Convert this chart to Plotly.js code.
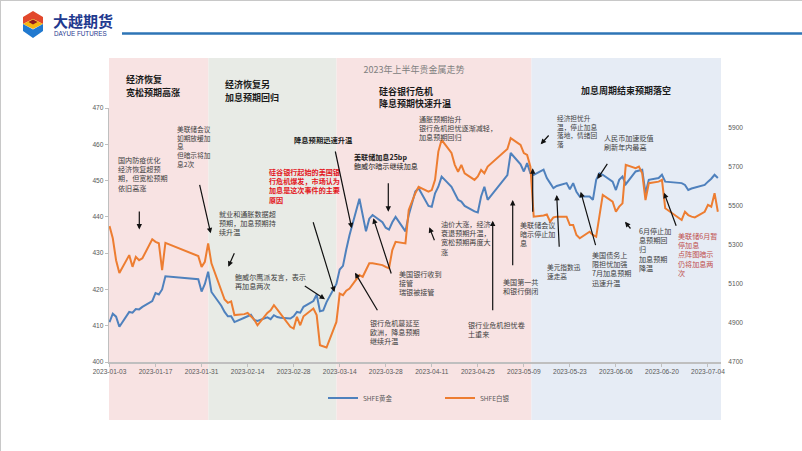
<!DOCTYPE html>
<html><head><meta charset="utf-8">
<script src="https://cdn.plot.ly/plotly-3.0.1.min.js"></script>
<style>html,body{margin:0;padding:0;background:#fff}#c{width:802px;height:451px}</style>
</head><body><div id="c"></div>
<script>
const dates = ['2023-01-03','2023-01-04','2023-01-05','2023-01-06','2023-01-09','2023-01-10','2023-01-11','2023-01-12','2023-01-13','2023-01-16','2023-01-17','2023-01-18','2023-01-19','2023-01-20','2023-01-30','2023-01-31',
'2023-02-01','2023-02-02','2023-02-03','2023-02-06','2023-02-07','2023-02-08','2023-02-09','2023-02-10','2023-02-13','2023-02-14','2023-02-15','2023-02-16','2023-02-17','2023-02-20','2023-02-21','2023-02-22','2023-02-23','2023-02-24','2023-02-27','2023-02-28',
'2023-03-01','2023-03-02','2023-03-03','2023-03-06','2023-03-07','2023-03-08','2023-03-09','2023-03-10','2023-03-13','2023-03-14','2023-03-15','2023-03-16','2023-03-17','2023-03-20','2023-03-21','2023-03-22','2023-03-23','2023-03-24','2023-03-27','2023-03-28','2023-03-29','2023-03-30','2023-03-31',
'2023-04-03','2023-04-04','2023-04-06','2023-04-07','2023-04-10','2023-04-11','2023-04-12','2023-04-13','2023-04-14','2023-04-17','2023-04-18','2023-04-19','2023-04-20','2023-04-21','2023-04-24','2023-04-25','2023-04-26','2023-04-27','2023-04-28',
'2023-05-04','2023-05-05','2023-05-08','2023-05-09','2023-05-10','2023-05-11','2023-05-12','2023-05-15','2023-05-16','2023-05-17','2023-05-18','2023-05-19','2023-05-22','2023-05-23','2023-05-24','2023-05-25','2023-05-26','2023-05-29','2023-05-30','2023-05-31',
'2023-06-01','2023-06-02','2023-06-05','2023-06-06','2023-06-07','2023-06-08','2023-06-09','2023-06-12','2023-06-13','2023-06-14','2023-06-15','2023-06-16','2023-06-19','2023-06-20','2023-06-21','2023-06-26','2023-06-27','2023-06-28','2023-06-29','2023-06-30',
'2023-07-03','2023-07-04','2023-07-05','2023-07-06','2023-07-07'];

const goldSHFE = [411.0,413.3,412.5,409.7,413.8,413.6,414.6,414.5,415.2,416.8,419.0,418.6,420.0,423.6,422.8,419.4,
421.5,424.9,419.3,415.5,413.8,412.6,412.6,411.0,412.2,412.6,413.0,411.6,411.3,412.3,411.8,412.9,412.4,412.2,412.0,412.6,
413.8,413.6,415.2,416.8,418.6,414.0,414.2,416.5,421.5,425.5,426.5,431.0,435.0,445.0,440.0,436.0,439.5,440.5,438.5,437.0,436.5,438.5,440.0,
436.0,440.5,447.0,447.9,443.0,442.8,446.5,448.3,451.1,448.3,446.5,444.7,444.2,443.0,441.5,441.2,445.6,448.3,444.7,
451.5,457.6,454.5,452.5,454.8,452.0,451.6,453.0,450.7,449.3,447.9,448.5,449.3,447.6,449.3,446.9,445.6,445.6,444.7,450.2,
452.0,451.6,449.7,447.4,450.2,451.1,449.0,452.5,452.8,453.0,446.5,450.2,450.7,451.6,449.7,449.3,448.8,447.4,447.8,448.0,
448.8,449.7,450.5,451.6,450.7];

const silverSHFE = [5396,5333,5221,5156,5247,5187,5238,5221,5231,5328,5315,5308,5170,5310,5242,5187,
5213,5307,5205,5059,5020,5003,5010,4940,4945,4951,4934,4917,4888,4951,4965,4991,4969,4948,4880,4871,
4931,4888,4934,4974,4940,4786,4780,4774,4905,5050,5042,5065,5076,5145,5136,5170,5205,5205,5196,5187,5179,5273,5315,
5307,5478,5564,5597,5572,5580,5632,5777,5837,5770,5709,5674,5709,5666,5632,5650,5683,5666,5700,
5790,5846,5811,5769,5760,5700,5444,5450,5455,5418,5440,5444,5444,5401,5401,5350,5333,5367,5350,5341,
5444,5555,5521,5469,5495,5512,5709,5692,5700,5666,5529,5615,5623,5632,5487,5427,5469,5452,5444,5440,
5469,5504,5495,5564,5469];

const seriesNames = ['SHFE黄金','SHFE白银'];
const chartTitle = '2023年上半年贵金属走势';

// geometry helpers (pixel -> paper)
const L=109, T=108, W=612, H=254;
const px = x => (x-L)/W;
const py = y => (T+H-y)/H;

const annotations = [];
const FONT = 'Noto Sans CJK SC, Noto Sans, sans-serif';
const styles = {
  h:{size:9,color:'#1a1a1a',bold:true},
  n:{size:7.1,color:'#404040',bold:false},
  s:{size:6.7,color:'#404040',bold:false},
  nb:{size:7.3,color:'#1a1a1a',bold:true},
  r:{size:7.1,color:'#e3161d',bold:true},
  p:{size:7.1,color:'#c0504d',bold:false}
};
// one text box per note; y = centre of its first line
function block(lines,x,y,st){
  const s=styles[st];
  const txt=lines.map(t=>s.bold?'<b>'+t+'</b>':t).join('<br>');
  annotations.push({text:txt,xref:'paper',yref:'paper',x:px(x-1),y:py(y-0.65*s.size-1),
    xanchor:'left',yanchor:'top',align:'left',showarrow:false,font:{family:FONT,size:s.size,color:s.color}});
}
// headings: one text per line, set a little apart
function heading(lines,x,y,dy){
  const s=styles.h;
  lines.forEach((t,i)=>annotations.push({text:'<b>'+t+'</b>',xref:'paper',yref:'paper',x:px(x),y:py(y+i*dy),
    xanchor:'left',yanchor:'middle',borderpad:0,showarrow:false,font:{family:FONT,size:s.size,color:s.color}}));
}
function arrow(x0,y0,x1,y1){
  annotations.push({text:'',xref:'paper',yref:'paper',x:px(x1),y:py(y1),ax:x0-x1,ay:y0-y1,
    showarrow:true,arrowhead:2,arrowsize:0.9,arrowwidth:1.2,arrowcolor:'#111',standoff:0});
}

// headings
heading(['经济恢复','宽松预期高涨'],125,79.5,12.6);
heading(['经济恢复另','加息预期回归'],224,84.5,12.6);
heading(['硅谷银行危机','降息预期快速升温'],378,91.2,12.6);
heading(['加息周期结束预期落空'],580,90.7,12);

// notes
block(['国内防疫优化','经济恢复超预','期，但宽松预期','依旧高涨'],117,158.3,'n');
block(['美联储会议','如期放缓加','息','但暗示将加','息2次'],176,127.7,'s');
block(['就业和通胀数据超','预期，加息预期持','续升温'],218.3,212.3,'n');
block(['鲍威尔鹰派发言，表示','再加息两次'],233.5,276,'n');
block(['硅谷银行起始的美国银','行危机爆发，市场认为','加息是这次事件的主要','原因'],268.3,171,'r');
block(['降息预期迅速升温'],292.7,138.3,'nb');
annotations.push({text:'<b>美联储加息25bp</b><br>鲍威尔暗示继续加息',xref:'paper',yref:'paper',x:px(351.7),y:py(155.5-0.65*7.1-1),
  xanchor:'left',yanchor:'top',align:'left',showarrow:false,font:{family:FONT,size:7.1,color:'#1a1a1a'}});
block(['通胀预期抬升','银行危机担忧逐渐减轻，','加息预期回归'],418.3,117.5,'n');
block(['油价大涨，经济','衰退预期升温，','宽松预期再度大','涨'],440,222.7,'n');
block(['美国银行收到','接管','瑞银被接管'],397.7,272.7,'n');
block(['银行危机蔓延至','欧洲，降息预期','继续升温'],369.3,321.7,'n');
block(['银行业危机担忧卷','土重来'],466.7,323.3,'n');
block(['美国第一共','和银行倒闭'],501.5,280.5,'n');
block(['美联储会议','暗示停止加','息'],519.3,223.5,'n');
block(['美元指数迅','速走高'],546,265,'s');
block(['美国债务上','限担忧加强','7月加息预期','迅速升温'],591,253.3,'n');
block(['经济担忧升','温，停止加息','落地，情绪回','落'],556,116.7,'s');
block(['人民币加速贬值','刷新年内最高'],602.7,136.7,'n');
block(['6月停止加','息预期回','归','加息预期','降温'],637.7,230,'n');
block(['美联储6月暂','停加息','点阵图暗示','仍将加息两','次'],676.7,235,'p');

// arrows (tail -> head)
arrow(139.3,210,139.3,229.5);
arrow(199.3,183.3,210.7,233.3);
arrow(235,251.7,228.3,266.7);
arrow(303.3,285,325,299.3);
arrow(312.7,220.7,334.5,292);
arrow(335,150,351.7,228.3);
arrow(388.3,181.7,388.3,211.7);
arrow(435,241.7,429.3,227.3);
arrow(391.7,275,373.3,218.3);
arrow(378.3,311.7,355,272.7);
arrow(492.7,311.7,492.7,220.7);
arrow(512.7,266.7,512.7,200);
arrow(532.7,213.3,532.7,168.3);
arrow(559.3,248.3,556.7,195);
arrow(596,246.7,580.7,191.7);
arrow(550,134,540.7,144.3);
arrow(608.3,162.3,597.3,179);
arrow(631.7,230,625,221.7);
arrow(676.7,227.3,664,192.7);

// header
annotations.push({text:'<b>大越期货</b>',xref:'paper',yref:'paper',x:px(51),y:py(20.5),xanchor:'left',yanchor:'middle',showarrow:false,font:{family:FONT,size:15,color:'#1f3a8f'}});
annotations.push({text:'DAYUE FUTURES',xref:'paper',yref:'paper',x:px(52),y:py(33.5),xanchor:'left',yanchor:'middle',showarrow:false,font:{family:'Liberation Sans, sans-serif',size:6.3,color:'#1f3a8f'}});

// shapes
const rect=(x0,x1,y0,y1,c)=>({type:'rect',xref:'paper',yref:'paper',x0:px(x0),x1:px(x1),y0:py(y1),y1:py(y0),fillcolor:c,line:{width:0},layer:'below'});
const poly=(pts,c)=>({type:'path',xref:'paper',yref:'paper',path:'M'+pts.map(p=>px(p[0])+','+py(p[1])).join('L')+'Z',fillcolor:c,line:{width:0},layer:'above'});
const shapes=[
  rect(109,208.5,58,420,'#f8e3e3'),
  rect(208.5,336.5,58,420,'#e8ebe6'),
  rect(336.5,531.5,58,420,'#f8e3e3'),
  rect(531.5,721,58,420,'#e6ecf5'),
  {type:'line',xref:'paper',yref:'paper',x0:px(122),x1:px(802),y0:py(33.5),y1:py(33.5),line:{color:'#2e75b6',width:2.5}},
  {type:'line',xref:'paper',yref:'paper',x0:px(0.5),x1:px(802),y0:py(0.5),y1:py(0.5),line:{color:'#c8c8c8',width:1}},
  {type:'line',xref:'paper',yref:'paper',x0:px(0.5),x1:px(0.5),y0:py(0),y1:py(451),line:{color:'#c8c8c8',width:1}},
  poly([[23,17],[33,11],[43,17],[43,24],[33,19],[23,24]],'#e2482c'),
  poly([[23,24],[33,19],[43,24],[33,29]],'#f6b510'),
  poly([[28.5,22],[33,19.5],[37.5,22],[33,24.5]],'#8e1c1c'),
  poly([[23,24],[33,29.5],[43,24],[43,31],[33,38],[23,31]],'#2179cf')
];

const traces=[
  {x:dates,y:goldSHFE,name:seriesNames[0],type:'scatter',mode:'lines',line:{color:'#4f81bd',width:2},yaxis:'y',hoverinfo:'skip'},
  {x:dates,y:silverSHFE,name:seriesNames[1],type:'scatter',mode:'lines',line:{color:'#ed7d31',width:2},yaxis:'y2',hoverinfo:'skip'}
];

const tickFont={family:'Liberation Sans, sans-serif',size:6.6,color:'#595959'};
const layout={
  width:802,height:451,margin:{l:L,r:802-L-W,t:T,b:451-T-H,pad:0},
  paper_bgcolor:'#ffffff',plot_bgcolor:'rgba(0,0,0,0)',
  title:{text:chartTitle,x:414/802,xref:'container',xanchor:'center',y:1-70/451,yref:'container',yanchor:'middle',font:{family:FONT,size:9,color:'#808080'}},
  xaxis:{type:'date',range:['2023-01-02 20:20','2023-07-07 23:00'],tick0:'2023-01-03',dtick:14*86400000,tickformat:'%Y-%m-%d',
    ticks:'outside',ticklen:3,tickcolor:'#bfbfbf',showline:true,linecolor:'#bfbfbf',linewidth:1.5,showgrid:false,zeroline:false,tickfont:tickFont},
  yaxis:{range:[400,470],dtick:10,ticks:'outside',ticklen:3,tickcolor:'#bfbfbf',showline:true,linecolor:'#bfbfbf',linewidth:1.2,showgrid:false,zeroline:false,tickfont:tickFont},
  yaxis2:{range:[4700,6000],tick0:4700,dtick:200,overlaying:'y',side:'right',ticks:'outside',ticklen:5,tickcolor:'rgba(0,0,0,0)',showline:false,showgrid:false,zeroline:false,tickfont:tickFont},
  showlegend:true,
  legend:{orientation:'h',x:px(323),y:py(398),xanchor:'left',yanchor:'middle',bgcolor:'rgba(0,0,0,0)',font:{family:'Noto Sans CJK SC, sans-serif',size:6.5,color:'#595959'},entrywidth:72,itemwidth:30},
  annotations:annotations,shapes:shapes
};
Plotly.newPlot('c',traces,layout,{staticPlot:true,displayModeBar:false});
</script></body></html>
